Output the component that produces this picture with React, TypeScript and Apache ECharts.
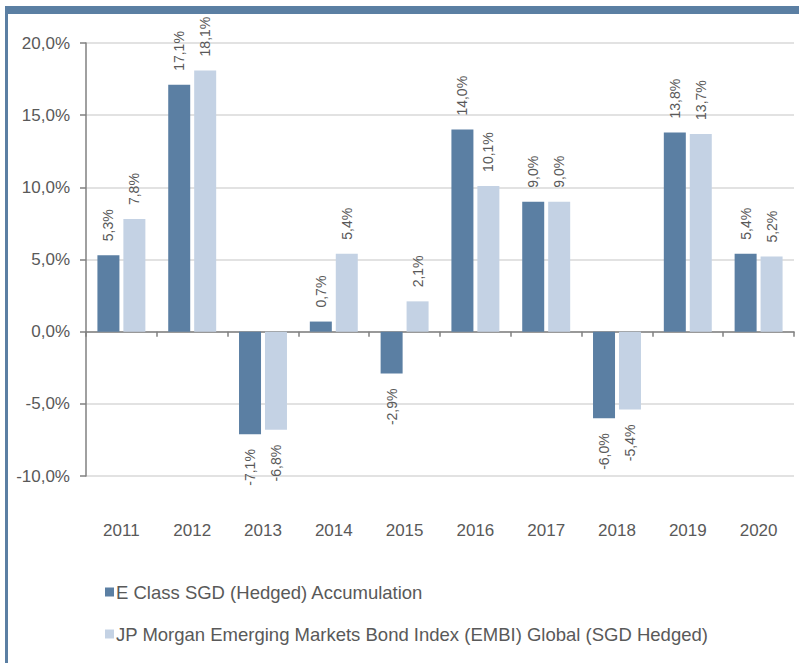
import React, { useEffect, useRef } from "react";
import * as echarts from "echarts";

const categories = ["2011", "2012", "2013", "2014", "2015", "2016", "2017", "2018", "2019", "2020"];
const fundName = "E Class SGD (Hedged) Accumulation";
const indexName = "JP Morgan Emerging Markets Bond Index (EMBI) Global (SGD Hedged)";
const fundValues = [5.3, 17.1, -7.1, 0.7, -2.9, 14.0, 9.0, -6.0, 13.8, 5.4];
const indexValues = [7.8, 18.1, -6.8, 5.4, 2.1, 10.1, 9.0, -5.4, 13.7, 5.2];
const yMin = -10;
const yMax = 20;
const yInterval = 5;

const DARK = "#5b7fa3";
const LIGHT = "#c4d2e4";
const TEXT = "#595959";
const FONT = "'Liberation Sans', Arial, sans-serif";

const fmt = (v: number) => v.toFixed(1).replace(".", ",") + "%";

const toData = (vals: number[]) =>
  vals.map((v) => ({
    value: v,
    label: {
      position: v >= 0 ? "top" : "bottom",
      align: v >= 0 ? "left" : "right",
      distance: v >= 0 ? 14 : 15,
    },
  }));

export default function App() {
  const ref = useRef<HTMLDivElement>(null);
  useEffect(() => {
    if (!ref.current) return;
    const chart = echarts.init(ref.current, null, { renderer: "svg" });
    const labelOpt = {
      show: true,
      rotate: 90,
      verticalAlign: "middle",
      fontSize: 14,
      fontFamily: FONT,
      color: TEXT,
      formatter: (p: any) => fmt(p.value),
    };
    chart.setOption({
      animation: false,
      backgroundColor: "#ffffff",
      textStyle: { fontFamily: FONT },
      graphic: [
        { type: "rect", left: 5, top: 6, shape: { width: 794, height: 8 }, style: { fill: DARK } },
        { type: "rect", left: 5, top: 6, shape: { width: 3, height: 657 }, style: { fill: DARK } },
      ],
      grid: { left: 86, right: 5, top: 43, bottom: 187, containLabel: false },
      legend: {
        orient: "vertical",
        left: 100,
        top: 577,
        itemWidth: 9,
        itemHeight: 9,
        itemGap: 22,
        icon: "rect",
        textStyle: { fontSize: 18.5, color: TEXT, fontFamily: FONT, lineHeight: 20, padding: [0, 0, 0, -3] },
        data: [fundName, indexName],
      },
      xAxis: [
        {
          type: "category",
          data: categories,
          position: "bottom",
          axisLine: { onZero: true, lineStyle: { color: "#808080", width: 1.5 } },
          axisTick: { show: true, length: 5, lineStyle: { color: "#808080", width: 1.5 } },
          axisLabel: { show: false },
        },
        {
          type: "category",
          data: categories,
          position: "bottom",
          axisLine: { show: false, onZero: false },
          axisTick: { show: false },
          axisLabel: { show: true, margin: 46, fontSize: 17, color: TEXT, fontFamily: FONT },
        },
      ],
      yAxis: {
        type: "value",
        min: yMin,
        max: yMax,
        interval: yInterval,
        axisLine: { show: true, lineStyle: { color: "#808080", width: 1.5 } },
        axisTick: { show: true, length: 6, lineStyle: { color: "#808080", width: 1.5 } },
        splitLine: { show: true, lineStyle: { color: "#d9d9d9", width: 1.5 } },
        axisLabel: {
          margin: 16,
          fontSize: 17,
          color: TEXT,
          fontFamily: FONT,
          formatter: (v: number) => fmt(v),
        },
      },
      series: [
        {
          name: fundName,
          type: "bar",
          xAxisIndex: 0,
          data: toData(fundValues),
          barWidth: 22,
          barGap: "18%",
          itemStyle: { color: DARK },
          label: labelOpt,
        },
        {
          name: indexName,
          type: "bar",
          xAxisIndex: 0,
          data: toData(indexValues),
          barWidth: 22,
          barGap: "18%",
          itemStyle: { color: LIGHT },
          label: labelOpt,
        },
      ],
    });
    return () => chart.dispose();
  }, []);
  return <div ref={ref} style={{ width: 799, height: 663, position: "absolute", left: 0, top: 0 }} />;
}
